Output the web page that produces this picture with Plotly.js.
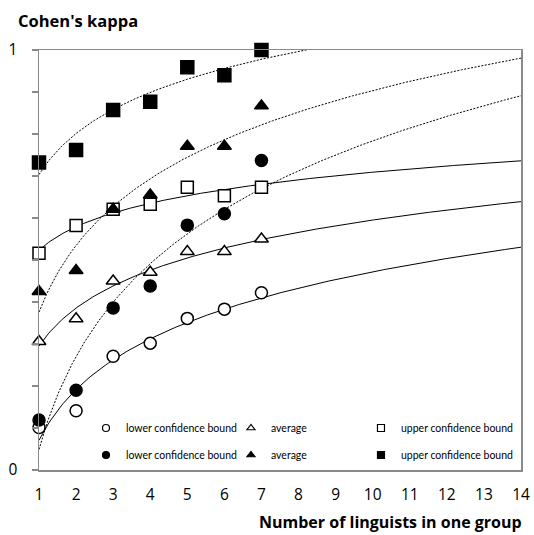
<!DOCTYPE html>
<html>
<head>
<meta charset="utf-8">
<script src="https://cdn.plot.ly/plotly-3.0.1.min.js"></script>
<style>html,body{margin:0;padding:0;background:#fff;}#chart{width:534px;height:535px;}</style>
</head>
<body>
<div id="chart"></div>
<script>
// ---- data ----
const groupSizes = [1, 2, 3, 4, 5, 6, 7];
const lowerOpen   = [0.101, 0.141, 0.271, 0.302, 0.361, 0.383, 0.422];
const avgOpen     = [0.306, 0.360, 0.450, 0.471, 0.520, 0.520, 0.550];
const upperOpen   = [0.516, 0.582, 0.621, 0.633, 0.673, 0.653, 0.673];
const lowerFilled = [0.119, 0.190, 0.386, 0.438, 0.583, 0.610, 0.737];
const avgFilled   = [0.425, 0.475, 0.621, 0.655, 0.771, 0.771, 0.867];
const upperFilled = [0.732, 0.762, 0.857, 0.877, 0.959, 0.940, 1.000];
const xTickVals = [1,2,3,4,5,6,7,8,9,10,11,12,13,14];
const yTickVals = [0,0.1,0.2,0.3,0.4,0.5,0.6,0.7,0.8,0.9,1];
const yTickText = ['0','','','','','','','','','','1'];
const legendLabels = ['lower confidence bound', 'average', 'upper confidence bound'];

// logarithmic least-squares trendline (as in the original spreadsheet chart)
function logFit(xs, ys) {
  const lx = xs.map(Math.log);
  const n = xs.length;
  const mx = lx.reduce((a,b)=>a+b,0)/n;
  const my = ys.reduce((a,b)=>a+b,0)/n;
  let sxx = 0, sxy = 0;
  for (let i=0;i<n;i++){ sxx += (lx[i]-mx)**2; sxy += (lx[i]-mx)*(ys[i]-my); }
  const a = sxy/sxx, b = my - a*mx;
  const tx = [], ty = [];
  for (let x = 1; x <= 14.0001; x += 0.05) { tx.push(x); ty.push(a*Math.log(x)+b); }
  return {x: tx, y: ty};
}

const series = [
  {y: lowerOpen,   sym: 'circle',      fill: '#ffffff', dash: 'solid', size: 12, leg: 'legend',  label: legendLabels[0]},
  {y: avgOpen,     sym: 'triangle-up', fill: '#ffffff', dash: 'solid', size: 12, leg: 'legend2', label: legendLabels[1]},
  {y: upperOpen,   sym: 'square',      fill: '#ffffff', dash: 'solid', size: 12, leg: 'legend3', label: legendLabels[2]},
  {y: lowerFilled, sym: 'circle',      fill: '#000000', dash: '2px,1.5px', size: 12, leg: 'legend4', label: legendLabels[0]},
  {y: avgFilled,   sym: 'triangle-up', fill: '#000000', dash: '2px,1.5px', size: 12, leg: 'legend5', label: legendLabels[1]},
  {y: upperFilled, sym: 'square',      fill: '#000000', dash: '2px,1.5px', size: 13, leg: 'legend6', label: legendLabels[2]}
];

const traces = [];
series.forEach(s => {
  const f = logFit(groupSizes, s.y);
  traces.push({x: f.x, y: f.y, type: 'scatter', mode: 'lines', showlegend: false, hoverinfo: 'skip',
    line: {color: '#000000', width: 1, dash: s.dash}, cliponaxis: true});
});
series.forEach(s => {
  traces.push({x: groupSizes, y: s.y, type: 'scatter', mode: 'markers', showlegend: false, cliponaxis: false,
    marker: {symbol: s.sym, size: s.size, color: s.fill, line: {color: '#000000', width: 1.5}}});
});
series.forEach(s => {
  traces.push({x: [null], y: [null], type: 'scatter', mode: 'markers', name: s.label, legend: s.leg, showlegend: true,
    marker: {symbol: s.sym, size: 7, color: s.fill, line: {color: '#000000', width: 1.2}}});
});

function mkLegend(x, y) {
  return {x: x, y: y, orientation: 'v', xanchor: 'left', yanchor: 'middle', bgcolor: 'rgba(0,0,0,0)', borderwidth: 0,
    itemwidth: 30, font: {family: 'Lato, sans-serif', size: 10.5, color: '#000'}};
}
const legendColX = [0.0975, 0.3983, 0.668];
const legendRowY = [0.1, 0.0357];

const layout = {
  width: 534, height: 535,
  margin: {l: 39, r: 13, t: 50, b: 65},
  paper_bgcolor: '#ffffff', plot_bgcolor: '#ffffff',
  font: {family: 'Open Sans, sans-serif', color: '#000'},
  xaxis: {range: [1, 14], tickvals: xTickVals, ticks: '', showgrid: false, zeroline: false,
    showline: true, mirror: true, linecolor: '#8a8a8a', linewidth: 1.5,
    tickfont: {size: 15.5, family: 'Open Sans, sans-serif'}, ticklabelstandoff: 10},
  yaxis: {range: [0, 1], tickvals: yTickVals, ticktext: yTickText, ticks: 'outside', ticklen: 6, tickcolor: '#8a8a8a', tickwidth: 1.2,
    showgrid: false, zeroline: false, showline: true, mirror: true, linecolor: '#8a8a8a', linewidth: 1.5,
    tickfont: {size: 15.5, family: 'Open Sans, sans-serif'}, ticklabelstandoff: 11},
  legend:  mkLegend(legendColX[0], legendRowY[0]),
  legend2: mkLegend(legendColX[1], legendRowY[0]),
  legend3: mkLegend(legendColX[2], legendRowY[0]),
  legend4: mkLegend(legendColX[0], legendRowY[1]),
  legend5: mkLegend(legendColX[1], legendRowY[1]),
  legend6: mkLegend(legendColX[2], legendRowY[1]),
  annotations: [
    {text: "<b>Cohen's kappa</b>", xref: 'paper', yref: 'paper', x: -0.048, y: 1.071, xanchor: 'left', yanchor: 'middle',
      showarrow: false, font: {size: 16.5, family: 'Open Sans, sans-serif'}},
    {text: '<b>Number of linguists in one group</b>', xref: 'paper', yref: 'paper', x: 1.006, y: -0.124, xanchor: 'right', yanchor: 'middle',
      showarrow: false, font: {size: 16, family: 'Open Sans, sans-serif'}}
  ]
};

Plotly.newPlot('chart', traces, layout, {displayModeBar: false, staticPlot: true});
</script>
</body>
</html>
